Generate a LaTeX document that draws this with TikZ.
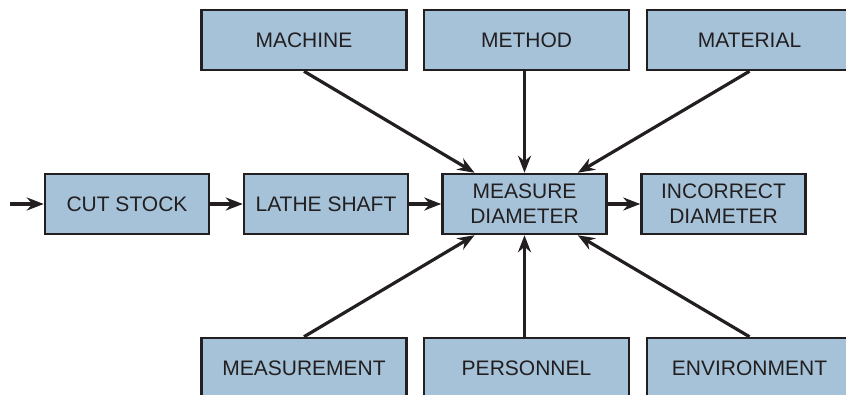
\documentclass[tikz,border=0pt]{standalone}
\usepackage{fontspec}
\setmainfont{Liberation Sans}
\usetikzlibrary{arrows.meta,calc}
\definecolor{boxblue}{RGB}{165,194,216}
\definecolor{ink}{RGB}{35,31,32}
\begin{document}
\begin{tikzpicture}[x=1pt,y=-1pt,
  box/.style={draw=ink, line width=2.5pt, fill=boxblue, text=ink, minimum height=60pt, inner sep=0pt, align=center, font=\fontsize{21}{25}\selectfont},
  widebox/.style={box, minimum width=205pt},
  midbox/.style={box, minimum width=164pt},
  arr/.style={draw=ink, line width=3.2pt, -{Stealth[length=17pt,width=13pt]}}]
\useasboundingbox (0,0) rectangle (846,395);
\clip (0,0) rectangle (846,395);

% Causes (top)
\node[widebox] (machine) at (304,40) {MACHINE};
\node[widebox] (method) at (526.5,40) {METHOD};
\node[widebox] (material) at (749.5,40) {MATERIAL};

% Process
\node[midbox] (cut) at (127,204) {CUT STOCK};
\node[midbox] (lathe) at (326,204) {LATHE SHAFT};
\node[midbox] (measure) at (524.5,204) {MEASURE\\DIAMETER};
\node[midbox] (wrong) at (723.5,204) {INCORRECT\\DIAMETER};

% Causes (bottom)
\node[widebox] (measurement) at (304,368) {MEASUREMENT};
\node[widebox] (personnel) at (526.5,368) {PERSONNEL};
\node[widebox] (environment) at (749.5,368) {ENVIRONMENT};

% Flow
\coordinate (start) at (10,204);
\draw[arr] (start) -- (cut);
\draw[arr] (cut) -- (lathe);
\draw[arr] (lathe) -- (measure);
\draw[arr] (measure) -- (wrong);

% Cause arrows
\draw[arr] (machine.south) -- ($(measure.north west)!0.2!(measure.north east)$);
\draw[arr] (method.south -| measure.north) -- (measure.north);
\draw[arr] (material.south) -- ($(measure.north west)!0.82!(measure.north east)$);
\draw[arr] (measurement.north) -- ($(measure.south west)!0.2!(measure.south east)$);
\draw[arr] (personnel.north -| measure.south) -- (measure.south);
\draw[arr] (environment.north) -- ($(measure.south west)!0.82!(measure.south east)$);
\end{tikzpicture}
\end{document}
